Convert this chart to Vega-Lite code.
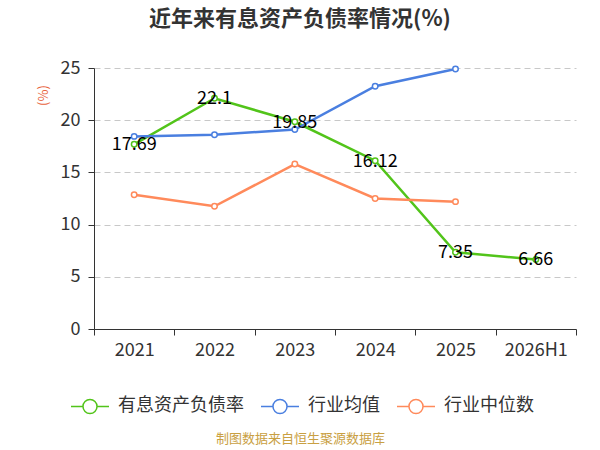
{
  "$schema": "https://vega.github.io/schema/vega-lite/v6.json",
  "autosize": {"type": "none"},
  "width": 482,
  "height": 261,
  "padding": {"left": 94, "top": 68, "right": 24, "bottom": 121},
  "background": "white",
  "title": {
    "text": "近年来有息资产负债率情况(%)",
    "anchor": "middle",
    "frame": "group",
    "dx": -35,
    "offset": 28,
    "fontSize": 22,
    "fontWeight": "bold",
    "font": "Noto Sans CJK SC",
    "color": "#333333"
  },
  "config": {
    "font": "Noto Sans CJK SC",
    "view": {"stroke": null}
  },
  "data": {
    "values": [
      {"year": "2021", "series": "有息资产负债率", "value": 17.69},
      {"year": "2022", "series": "有息资产负债率", "value": 22.1},
      {"year": "2023", "series": "有息资产负债率", "value": 19.85},
      {"year": "2024", "series": "有息资产负债率", "value": 16.12},
      {"year": "2025", "series": "有息资产负债率", "value": 7.35},
      {"year": "2026H1", "series": "有息资产负债率", "value": 6.66},
      {"year": "2021", "series": "行业均值", "value": 18.45},
      {"year": "2022", "series": "行业均值", "value": 18.6},
      {"year": "2023", "series": "行业均值", "value": 19.1},
      {"year": "2024", "series": "行业均值", "value": 23.25},
      {"year": "2025", "series": "行业均值", "value": 24.9},
      {"year": "2021", "series": "行业中位数", "value": 12.85},
      {"year": "2022", "series": "行业中位数", "value": 11.75},
      {"year": "2023", "series": "行业中位数", "value": 15.8},
      {"year": "2024", "series": "行业中位数", "value": 12.5},
      {"year": "2025", "series": "行业中位数", "value": 12.2}
    ]
  },
  "encoding": {
    "x": {
      "field": "year",
      "type": "ordinal",
      "sort": null,
      "scale": {"paddingInner": 0, "paddingOuter": 0},
      "axis": {
        "title": "制图数据来自恒生聚源数据库",
        "titleX": 206,
        "titleY": 103,
        "titleAlign": "center",
        "titleColor": "#c9a042",
        "titleFontSize": 13,
        "titleFontWeight": "normal",
        "labelAngle": 0,
        "labelFontSize": 18,
        "labelColor": "#333333",
        "labelPadding": 6,
        "tickBand": "extent",
        "tickSize": 6,
        "tickColor": "#333333",
        "domainColor": "#333333",
        "grid": false
      }
    },
    "y": {
      "field": "value",
      "type": "quantitative",
      "scale": {"domain": [0, 25], "nice": false},
      "axis": {
        "title": "(%)",
        "titleColor": "#e8643c",
        "titleFontSize": 13,
        "titleFontWeight": "normal",
        "titleAngle": -90,
        "titleX": -44,
        "titleY": 27,
        "titleAlign": "center",
        "values": [0, 5, 10, 15, 20, 25],
        "labelFontSize": 18,
        "labelColor": "#333333",
        "labelPadding": 8,
        "tickSize": 6,
        "tickColor": "#333333",
        "domainColor": "#333333",
        "gridColor": "#c8c8c8",
        "gridDash": [6, 4],
        "gridWidth": 1
      }
    }
  },
  "layer": [
    {
      "mark": {
        "type": "line",
        "strokeWidth": 2.5,
        "point": {"filled": false, "fill": "white", "size": 30, "strokeWidth": 1.5}
      },
      "encoding": {
        "color": {
          "field": "series",
          "type": "nominal",
          "scale": {
            "domain": ["有息资产负债率", "行业均值", "行业中位数"],
            "range": ["#52c41a", "#4a7fe0", "#ff8a5b"]
          },
          "legend": {
            "title": null,
            "orient": "none",
            "direction": "horizontal",
            "legendX": -24,
            "legendY": 318,
            "symbolType": "M-1,0H-0.37M0.37,0H1M0.37,0A0.37,0.37 0 1,1 -0.37,0A0.37,0.37 0 1,1 0.37,0",
            "symbolSize": 1444,
            "symbolStrokeWidth": 1.5,
            "symbolFillColor": "white",
            "labelFontSize": 18,
            "labelColor": "#333333",
            "labelOffset": 8,
            "columnPadding": 14
          }
        }
      }
    },
    {
      "transform": [{"filter": "datum.series === '有息资产负债率'"}],
      "mark": {
        "type": "text",
        "fontSize": 18,
        "color": "#000000",
        "dy": 1
      },
      "encoding": {
        "text": {"field": "value", "type": "quantitative"}
      }
    }
  ]
}
